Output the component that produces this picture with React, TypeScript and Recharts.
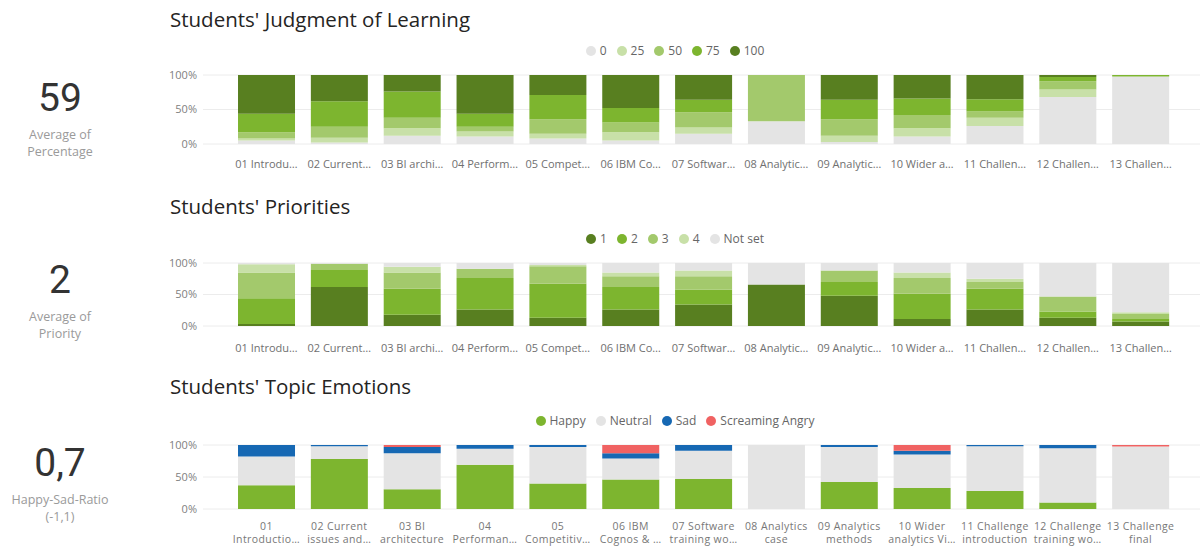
import React from 'react';
import { BarChart, Bar, XAxis, YAxis, CartesianGrid, Legend } from 'recharts';

// ---- categories / tick labels ----
const topicsShort = [
  '01 Introdu…', '02 Current…', '03 BI archi…', '04 Perform…', '05 Compet…', '06 IBM Co…',
  '07 Softwar…', '08 Analytic…', '09 Analytic…', '10 Wider a…', '11 Challen…', '12 Challen…', '13 Challen…',
];
const topicsWrapped = [
  ['01', 'Introductio…'], ['02 Current', 'issues and…'], ['03 BI', 'architecture'], ['04', 'Performan…'],
  ['05', 'Competitiv…'], ['06 IBM', 'Cognos & …'], ['07 Software', 'training wo…'], ['08 Analytics', 'case'],
  ['09 Analytics', 'methods'], ['10 Wider', 'analytics Vi…'], ['11 Challenge', 'introduction'],
  ['12 Challenge', 'training wo…'], ['13 Challenge', 'final'],
];

// ---- Judgment of learning (% share per answer) ----
const jol0 = [5, 2, 12, 11, 8, 5, 15, 33, 3, 11, 26, 68, 98];
const jol25 = [3, 7, 11, 7, 7, 12, 9, 0, 9, 12, 12, 11, 0];
const jol50 = [9, 16, 15, 7, 21, 14, 22, 67, 24, 19, 9, 12, 0];
const jol75 = [27, 37, 38, 19, 35, 21, 18, 0, 28, 24, 18, 6, 2];
const jol100 = [56, 38, 24, 56, 29, 48, 36, 0, 36, 34, 35, 3, 0];

// ---- Priorities ----
const prio1 = [3, 62, 18, 26, 13, 26, 34, 66, 48, 11, 26, 13, 7];
const prio2 = [41, 27, 41, 50, 54, 36, 24, 0, 22, 40, 33, 10, 4];
const prio3 = [41, 10, 26, 15, 28, 17, 21, 0, 18, 25, 11, 24, 8];
const prio4 = [13, 0, 9, 0, 2, 6, 9, 0, 0, 9, 5, 0, 3];
const prioNotSet = [2, 1, 6, 9, 3, 15, 12, 34, 12, 15, 25, 53, 78];

// ---- Emotions ----
const emoHappy = [37, 78, 31, 69, 40, 46, 47, 0, 42, 33, 28, 10, 0];
const emoNeutral = [45, 20, 56, 25, 57, 33, 44, 100, 55, 52, 70, 85, 97.5];
const emoSad = [18, 2, 10, 6, 3, 8, 9, 0, 3, 6, 2, 5, 0];
const emoAngry = [0, 0, 3, 0, 0, 13, 0, 0, 0, 9, 0, 0, 2.5];

const jolData = topicsShort.map((name, i) => ({
  name, s0: jol0[i], s25: jol25[i], s50: jol50[i], s75: jol75[i], s100: jol100[i],
}));
const prioData = topicsShort.map((name, i) => ({
  name, p1: prio1[i], p2: prio2[i], p3: prio3[i], p4: prio4[i], pn: prioNotSet[i],
}));
const emoData = topicsWrapped.map((lines, i) => ({
  name: lines.join('\n'), happy: emoHappy[i], neutral: emoNeutral[i], sad: emoSad[i], angry: emoAngry[i],
}));

const DARK = '#587f20';
const BRIGHT = '#7db52f';
const MID = '#a3c96c';
const LIGHT = '#c8e0a8';
const GREY = '#e4e4e4';
const BLUE = '#1668b3';
const RED = '#f06262';

const FONT = '"Segoe UI", "Open Sans", sans-serif';
const CHART_W = 1041;

const pct = (v: number) => `${Math.round(v * 100)}%`;
const legendFmt = (v: string) => <span style={{ color: '#666', fontFamily: FONT, fontSize: 12 }}>{v}</span>;

const WrappedTick = (props: any) => {
  const { x, y, payload } = props;
  const lines = String(payload.value).split('\n');
  return (
    <g transform={`translate(${x},${y})`}>
      <text textAnchor="middle" fill="#777" fontSize={10.5} fontFamily={FONT} letterSpacing={0.4}>
        {lines.map((l, i) => (
          <tspan key={i} x={0} dy={i === 0 ? 11 : 13}>{l}</tspan>
        ))}
      </text>
    </g>
  );
};

const commonY = (
  <YAxis
    width={43}
    domain={[0, 1]}
    ticks={[0, 0.5, 1]}
    tickFormatter={pct}
    axisLine={false}
    tickLine={false}
    tickMargin={0}
    tick={{ fill: '#808080', fontSize: 11, fontFamily: FONT }}
  />
);

const Title = ({ text, cy }: { text: string; cy: number }) => (
  <div style={{ position: 'absolute', left: 170, top: cy - 15, height: 30, lineHeight: '30px', fontSize: 20.5, fontFamily: FONT, color: '#252423' }}>
    {text}
  </div>
);

const Card = ({ value, lines, cy }: { value: string; lines: string[]; cy: number }) => (
  <div style={{ position: 'absolute', left: 0, width: 120, top: 0 }}>
    <div style={{ position: 'absolute', left: 0, width: 120, top: cy - 24, height: 48, lineHeight: '48px', textAlign: 'center', fontFamily: 'Roboto, sans-serif', fontSize: 39, color: '#333' }}>
      {value}
    </div>
    {lines.map((l, i) => (
      <div key={i} style={{ position: 'absolute', left: 0, width: 120, top: cy + 37 - 8 + i * 16.5, height: 16, lineHeight: '16px', textAlign: 'center', fontFamily: FONT, fontSize: 12.5, color: '#9a9a9a' }}>
        {l}
      </div>
    ))}
  </div>
);

export default function App() {
  const legendProps = {
    verticalAlign: 'top' as const,
    align: 'center' as const,
    iconType: 'circle' as const,
    iconSize: 10,
    formatter: legendFmt,
    wrapperStyle: { top: 2, lineHeight: '16px' },
  };
  const xTick = { fill: '#707070', fontSize: 11, fontFamily: FONT };
  const numSort = (item: any) => Number(item.value);
  return (
    <div style={{ position: 'absolute', left: 0, top: 0, width: 1201, height: 554, background: '#fff', overflow: 'hidden' }}>
      <Card value="59" lines={['Average of', 'Percentage']} cy={98} />
      <Card value="2" lines={['Average of', 'Priority']} cy={280} />
      <Card value="0,7" lines={['Happy-Sad-Ratio', '(-1,1)']} cy={463} />

      <Title text="Students' Judgment of Learning" cy={19} />
      <Title text="Students' Priorities" cy={206} />
      <Title text="Students' Topic Emotions" cy={386} />

      <div style={{ position: 'absolute', left: 160, top: 40 }}>
        <BarChart width={CHART_W} height={134} data={jolData} stackOffset="expand" barCategoryGap="11%"
          margin={{ top: 18, right: 1, left: 0, bottom: 0 }}>
          <CartesianGrid vertical={false} stroke="#ececec" />
          <XAxis dataKey="name" axisLine={false} tickLine={false} tickMargin={10} height={30} interval={0}
            padding={{ left: 27, right: 23 }} tick={xTick} />
          {commonY}
          <Legend {...legendProps} itemSorter={numSort} />
          <Bar dataKey="s0" name="0" stackId="a" fill={GREY} isAnimationActive={false} />
          <Bar dataKey="s25" name="25" stackId="a" fill={LIGHT} isAnimationActive={false} />
          <Bar dataKey="s50" name="50" stackId="a" fill={MID} isAnimationActive={false} />
          <Bar dataKey="s75" name="75" stackId="a" fill={BRIGHT} isAnimationActive={false} />
          <Bar dataKey="s100" name="100" stackId="a" fill={DARK} isAnimationActive={false} />
        </BarChart>
      </div>

      <div style={{ position: 'absolute', left: 160, top: 228 }}>
        <BarChart width={CHART_W} height={128} data={prioData} stackOffset="expand" barCategoryGap="11%"
          margin={{ top: 18, right: 1, left: 0, bottom: 0 }}>
          <CartesianGrid vertical={false} stroke="#ececec" />
          <XAxis dataKey="name" axisLine={false} tickLine={false} tickMargin={12} height={30} interval={0}
            padding={{ left: 27, right: 23 }} tick={xTick} />
          {commonY}
          <Legend {...legendProps} />
          <Bar dataKey="p1" name="1" stackId="a" fill={DARK} isAnimationActive={false} />
          <Bar dataKey="p2" name="2" stackId="a" fill={BRIGHT} isAnimationActive={false} />
          <Bar dataKey="p3" name="3" stackId="a" fill={MID} isAnimationActive={false} />
          <Bar dataKey="p4" name="4" stackId="a" fill={LIGHT} isAnimationActive={false} />
          <Bar dataKey="pn" name="Not set" stackId="a" fill={GREY} isAnimationActive={false} />
        </BarChart>
      </div>

      <div style={{ position: 'absolute', left: 160, top: 410 }}>
        <BarChart width={CHART_W} height={141} data={emoData} stackOffset="expand" barCategoryGap="11%"
          margin={{ top: 18, right: 1, left: 0, bottom: 0 }}>
          <CartesianGrid vertical={false} stroke="#ececec" />
          <XAxis dataKey="name" axisLine={false} tickLine={false} tickMargin={4} height={42} interval={0}
            padding={{ left: 27, right: 23 }} tick={<WrappedTick />} />
          {commonY}
          <Legend {...legendProps} />
          <Bar dataKey="happy" name="Happy" stackId="a" fill={BRIGHT} isAnimationActive={false} />
          <Bar dataKey="neutral" name="Neutral" stackId="a" fill={GREY} isAnimationActive={false} />
          <Bar dataKey="sad" name="Sad" stackId="a" fill={BLUE} isAnimationActive={false} />
          <Bar dataKey="angry" name="Screaming Angry" stackId="a" fill={RED} isAnimationActive={false} />
        </BarChart>
      </div>
    </div>
  );
}
